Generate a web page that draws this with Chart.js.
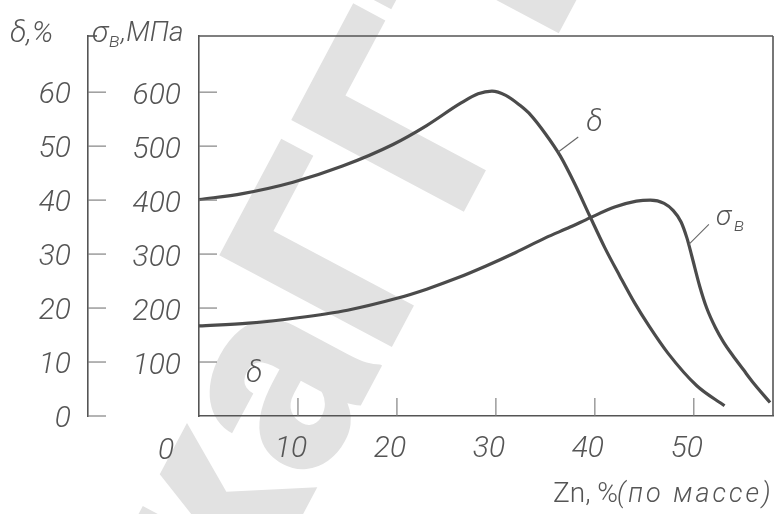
<!DOCTYPE html>
<html>
<head>
<meta charset="utf-8">
<script src="https://cdn.jsdelivr.net/npm/chart.js@4.4.1/dist/chart.umd.min.js"></script>
<style>
  html, body { margin: 0; padding: 0; background: #fff; }
  canvas { display: block; }
</style>
</head>
<body>
<canvas id="brass" width="782" height="514"></canvas>
<script>
// Brass (Cu–Zn): elongation δ and tensile strength σв versus zinc content

// Elongation δ, %
const deltaZn  = [0, 4.4, 9.5, 14.5, 19.6, 23.0, 26.4, 28.2, 29.6, 31.0, 32.4, 33.5, 35.0, 36.5, 38.0, 39.5, 41.0, 42.5, 44.0, 45.5, 47.4, 50.3, 53.1];
const deltaPct = [40.1, 41.2, 43.3, 46.3, 50.3, 53.8, 57.9, 59.7, 60.2, 59.4, 57.6, 55.8, 52.3, 48.2, 42.9, 37.0, 31.2, 26.0, 21.0, 16.6, 11.6, 5.6, 1.9];

// Tensile strength σв, MPa
const sigmaZn  = [0, 5, 10, 15, 20, 23, 26, 29, 32, 35, 37.5, 39.5, 42, 44.2, 45.6, 47.0, 47.9, 48.7, 49.3, 49.8, 50.6, 51.3, 52.2, 53.0, 53.9, 55.0, 55.9, 57.7];
const sigmaMPa = [167, 172, 182, 196, 218, 235, 255, 278, 303, 330, 350, 367, 387, 398, 400, 394, 381, 360, 330, 296, 240, 200, 163, 137, 113, 86, 64, 25];

// Tick values
const zincTicks  = [10, 20, 30, 40, 50];
const sigmaTicks = [100, 200, 300, 400, 500, 600];
const deltaTicks = [0, 10, 20, 30, 40, 50, 60];

const INK = '#555';
const CURVE = '#4b4b4b';
const FACE = 'Roboto, "Liberation Sans", sans-serif';
const tickFont = { family: FACE, size: 30, style: 'italic', weight: '300' };

function pairs(xs, ys) { return xs.map((x, i) => ({ x, y: ys[i] })); }

function setTicks(values) {
  return scale => { scale.ticks = values.map(v => ({ value: v })); };
}

function line(ctx, x1, y1, x2, y2) {
  ctx.beginPath(); ctx.moveTo(x1, y1); ctx.lineTo(x2, y2); ctx.stroke();
}

function italic(size, weight) { return `italic ${weight || 300} ${size}px ${FACE}`; }

// Faint library stamp running diagonally across the sheet
function drawStamp(ctx) {
  ctx.save();
  ctx.fillStyle = '#e2e2e2';
  ctx.font = `900 275px ${FACE}`;
  ctx.textBaseline = 'alphabetic';
  const a = -62 * Math.PI / 180;
  const head = ctx.measureText('ека').width;
  const ox = 385 - Math.cos(a) * head, oy = 360 - Math.sin(a) * head;
  ctx.translate(ox, oy);
  ctx.rotate(a);
  ctx.fillText('екаГГТУ', 0, 0);
  ctx.restore();
}

const drafting = {
  id: 'drafting',
  beforeDraw(chart) {
    const ctx = chart.ctx;
    ctx.save();
    ctx.fillStyle = '#fff';
    ctx.fillRect(0, 0, chart.width, chart.height);
    ctx.restore();
    drawStamp(ctx);
  },
  afterDraw(chart) {
    const ctx = chart.ctx;
    const ca = chart.chartArea;
    const sx = chart.scales.x, ys = chart.scales.ySigma, yd = chart.scales.yDelta;
    ctx.save();
    ctx.strokeStyle = INK;
    ctx.lineWidth = 1.6;
    // frame: top and right sides
    line(ctx, ca.left, ca.top, ca.right, ca.top);
    line(ctx, ca.right, ca.top, ca.right, ca.bottom);
    // small cap on top of the δ axis
    line(ctx, yd.right, ca.top, yd.right + 9, ca.top);

    // inward tick marks
    ctx.lineWidth = 1.1;
    ctx.strokeStyle = '#777';
    sigmaTicks.forEach(v => { const y = ys.getPixelForValue(v); line(ctx, ca.left, y, ca.left + 18, y); });
    deltaTicks.forEach(v => { const y = yd.getPixelForValue(v); line(ctx, yd.right, y, yd.right + 18, y); });
    zincTicks.forEach(v => { const x = sx.getPixelForValue(v); line(ctx, x, ca.bottom, x, ca.bottom - 18); });

    ctx.fillStyle = INK;
    ctx.textBaseline = 'middle';
    ctx.textAlign = 'left';

    // axis titles
    ctx.font = italic(30);
    ctx.fillText('δ,%', 10, 34);
    ctx.fillText('σ', 92, 34);
    ctx.font = italic(20);
    ctx.fillText('в', 109, 42);
    ctx.font = italic(28);
    ctx.fillText(',МПа', 121, 34);

    // origin label of the zinc axis
    ctx.font = italic(30);
    ctx.textAlign = 'center';
    ctx.fillText('0', sx.getPixelForValue(0) - 33, 451);

    // zinc axis title
    ctx.textAlign = 'left';
    ctx.font = `300 28px ${FACE}`;
    ctx.fillText('Zn, %', 553, 495);
    ctx.font = italic(27);
    ctx.letterSpacing = '3px';
    ctx.fillText('(по массе)', 617, 495);
    ctx.letterSpacing = '0px';

    // curve labels with leaders
    ctx.strokeStyle = '#666';
    ctx.lineWidth = 1.1;
    const dx = sx.getPixelForValue(36.3), dy = yd.getPixelForValue(48.9);
    line(ctx, dx, dy, dx + 20, dy - 15);
    ctx.font = italic(30);
    ctx.fillText('δ', dx + 28, dy - 29);

    const gx = sx.getPixelForValue(49.5), gy = ys.getPixelForValue(318);
    line(ctx, gx, gy, gx + 20, gy - 20);
    ctx.font = italic(28);
    ctx.fillText('σ', gx + 27, gy - 26);
    ctx.font = italic(19);
    ctx.fillText('в', gx + 45, gy - 18);

    ctx.font = italic(30);
    ctx.fillText('δ', 246, 374);
    ctx.restore();
  }
};

new Chart(document.getElementById('brass'), {
  type: 'line',
  data: {
    datasets: [
      {
        label: 'δ, %',
        data: pairs(deltaZn, deltaPct),
        yAxisID: 'yDelta',
        borderColor: CURVE,
        borderWidth: 3.2,
        pointRadius: 0,
        fill: false,
        cubicInterpolationMode: 'monotone'
      },
      {
        label: 'σв, МПа',
        data: pairs(sigmaZn, sigmaMPa),
        yAxisID: 'ySigma',
        borderColor: CURVE,
        borderWidth: 3.2,
        pointRadius: 0,
        fill: false,
        cubicInterpolationMode: 'monotone'
      }
    ]
  },
  options: {
    responsive: false,
    animation: false,
    events: [],
    layout: { padding: { left: 0, right: 9, top: 16, bottom: 0 } },
    plugins: { legend: { display: false }, tooltip: { enabled: false }, title: { display: false } },
    scales: {
      x: {
        type: 'linear',
        position: 'bottom',
        min: 0, max: 58,
        afterBuildTicks: setTicks(zincTicks),
        afterFit: s => { s.height = 98; },
        grid: { display: false, drawOnChartArea: false, drawTicks: false },
        border: { display: true, color: INK, width: 1.6 },
        ticks: { padding: 15, labelOffset: -7, color: INK, font: tickFont, maxRotation: 0, autoSkip: false }
      },
      ySigma: {
        type: 'linear',
        position: 'left',
        weight: 0,
        min: 0, max: 704,
        afterBuildTicks: setTicks(sigmaTicks),
        afterFit: s => { s.width = 111; },
        grid: { display: false, drawOnChartArea: false, drawTicks: false },
        border: { display: true, color: INK, width: 1.6 },
        ticks: { padding: 18, labelOffset: 4, color: INK, font: tickFont, autoSkip: false }
      },
      yDelta: {
        type: 'linear',
        position: 'left',
        weight: 1,
        min: 0, max: 70.4,
        afterBuildTicks: setTicks(deltaTicks),
        afterFit: s => { s.width = 88; },
        grid: { display: false, drawOnChartArea: false, drawTicks: false },
        border: { display: true, color: INK, width: 1.6 },
        ticks: { padding: 17, labelOffset: 3, color: INK, font: tickFont, autoSkip: false }
      }
    }
  },
  plugins: [drafting]
});
</script>
</body>
</html>
